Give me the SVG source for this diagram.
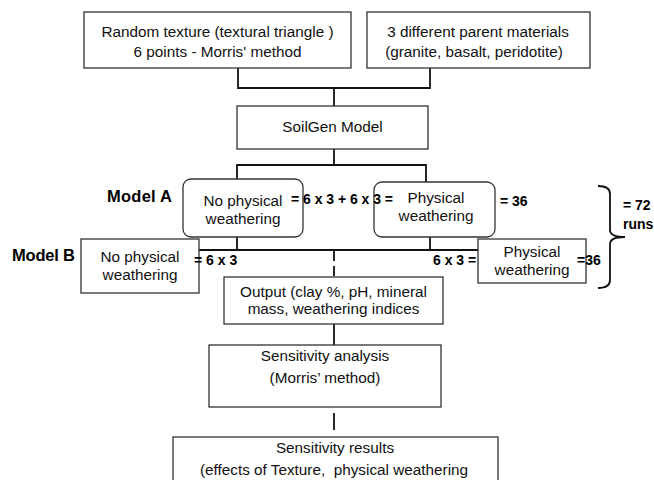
<svg xmlns="http://www.w3.org/2000/svg" width="654" height="480" viewBox="0 0 654 480">
<style>
.box{fill:#fff;stroke:#333;stroke-width:1.3}
.t{font-family:"Liberation Sans",Arial,sans-serif;font-size:15.3px;fill:#111;text-anchor:middle}
.b{font-family:"Liberation Sans",Arial,sans-serif;font-size:14px;font-weight:bold;fill:#000}
.lbl{font-family:"Liberation Sans",Arial,sans-serif;font-size:16.5px;font-weight:bold;fill:#000}
.c{fill:none;stroke:#111;stroke-width:1.8}
</style>
<rect width="654" height="480" fill="#fff"/>
<g id="connectors">
<path class="c" d="M238,68 V88 H430 V68 M334,88 V106"/>
<path class="c" d="M334,149 V165" stroke-width="3"/>
<path class="c" d="M237,179 V165 H426 V182"/>
<path class="c" d="M237,237 V250 M430,237 V250 M199,250 H478"/>
<path class="c" d="M334,251 V277" stroke-dasharray="10 5"/>
<path class="c" d="M334,324 V345"/>
<path class="c" d="M334,413 V430"/>
<path class="c" d="M598,186 Q610,186 610,194 V230 Q610,237 625,237 Q610,237 610,244 V280 Q610,288 598,288" stroke-width="1.3"/>
</g>
<g id="texture">
<rect class="box" x="84" y="12" width="267" height="56"/>
<text class="t" x="217.5" y="37">Random texture (textural triangle )</text>
<text class="t" x="217.5" y="57">6 points - Morris' method</text>
</g>
<g id="parent">
<rect class="box" x="367" y="12" width="223" height="56"/>
<text class="t" x="478" y="37">3 different parent materials</text>
<text class="t" x="474" y="57">(granite, basalt, peridotite)</text>
</g>
<g id="soilgen">
<rect class="box" x="237" y="106" width="191" height="43"/>
<text class="t" x="332.5" y="132">SoilGen Model</text>
</g>
<g id="modelA-nophys">
<rect class="box" x="183" y="179" width="120" height="58" rx="8"/>
<text class="t" x="243" y="206">No physical</text>
<text class="t" x="243" y="224">weathering</text>
</g>
<g id="modelA-phys">
<rect class="box" x="374" y="182" width="121" height="55" rx="8"/>
<text class="t" x="436" y="203">Physical</text>
<text class="t" x="436" y="221">weathering</text>
</g>
<g id="modelB-nophys">
<rect class="box" x="81" y="239" width="118" height="54"/>
<text class="t" x="140" y="262">No physical</text>
<text class="t" x="140" y="280">weathering</text>
</g>
<g id="modelB-phys">
<rect class="box" x="478" y="239" width="108" height="44"/>
<text class="t" x="532" y="257">Physical</text>
<text class="t" x="532" y="275">weathering</text>
</g>
<g id="output">
<rect class="box" x="224" y="277" width="219" height="47"/>
<text class="t" x="333.5" y="297">Output (clay %, pH, mineral</text>
<text class="t" x="333.5" y="314">mass, weathering indices</text>
</g>
<g id="sensitivity">
<rect class="box" x="209" y="345" width="232" height="62"/>
<text class="t" x="325" y="361">Sensitivity analysis</text>
<text class="t" x="325" y="383">(Morris’ method)</text>
</g>
<g id="results">
<rect class="box" x="173" y="437" width="325" height="60"/>
<text class="t" x="335" y="453">Sensitivity results</text>
<text class="t" x="334" y="475" xml:space="preserve">(effects of Texture,  physical weathering</text>
</g>
<g id="labels">
<text class="lbl" x="107" y="202" textLength="65">Model A</text>
<text class="lbl" x="12" y="261" textLength="63">Model B</text>
<text class="b" x="291" y="204" textLength="102" xml:space="preserve">= 6 x 3 + 6 x 3 =</text>
<text class="b" x="500" y="206">= 36</text>
<text class="b" x="194" y="265">= 6 x 3</text>
<text class="b" x="433" y="265">6 x 3 =</text>
<text class="b" x="577" y="265">=36</text>
<text class="b" x="623" y="210">= 72</text>
<text class="b" x="623" y="229">runs</text>
</g>
</svg>
